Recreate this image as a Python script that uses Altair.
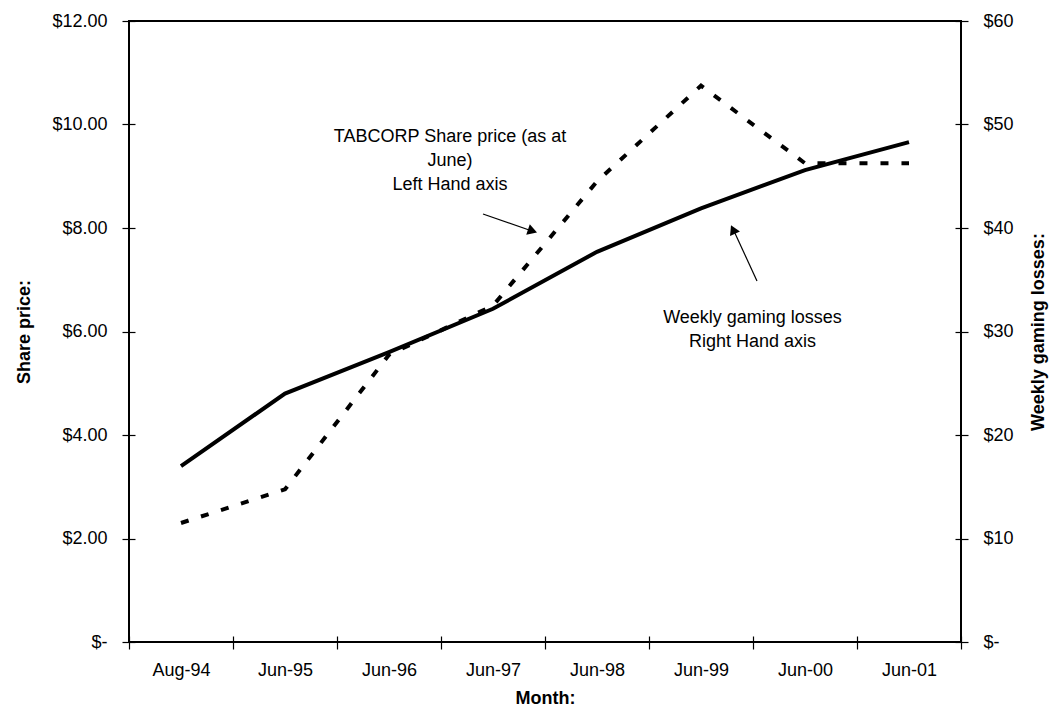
import altair as alt
import pandas as pd

months = ["Aug-94", "Jun-95", "Jun-96", "Jun-97", "Jun-98", "Jun-99", "Jun-00", "Jun-01"]
share_price = [2.30, 2.95, 5.55, 6.50, 8.90, 10.75, 9.25, 9.25]
weekly_losses = [17.0, 24.0, 28.0, 32.2, 37.7, 41.9, 45.6, 48.3]

df = pd.DataFrame({"Month": months, "Share": share_price, "Losses": weekly_losses})

FONT = "Liberation Sans"
FS = 18

x_enc = alt.X(
    "Month:N",
    sort=months,
    scale=alt.Scale(paddingInner=0, paddingOuter=0),
    axis=alt.Axis(
        title="Month:",
        titleFont=FONT, titleFontSize=FS, titleFontWeight="bold", titleColor="black",
        labelFont=FONT, labelFontSize=FS, labelColor="black", labelAngle=0,
        labelPadding=12, titlePadding=10,
        tickBand="extent", tickSize=13, offset=-6, domain=False,
        tickColor="black", tickWidth=1.2, grid=False,
    ),
)

share_line = alt.Chart(df).mark_line(
    color="black", strokeWidth=4, strokeDash=[8, 13]
).encode(
    x=x_enc,
    y=alt.Y(
        "Share:Q",
        scale=alt.Scale(domain=[0, 12], nice=False),
        axis=alt.Axis(
            title="Share price:", values=[0, 2, 4, 6, 8, 10, 12],
            labelExpr="datum.value == 0 ? '$-' : '$' + format(datum.value, '.2f')",
            titleFont=FONT, titleFontSize=FS, titleFontWeight="bold", titleColor="black",
            labelFont=FONT, labelFontSize=FS, labelColor="black",
            tickSize=13, offset=-6, domain=False, tickColor="black", tickWidth=1.2,
            labelPadding=15, titlePadding=18, grid=False,
        ),
    ),
)

loss_line = alt.Chart(df).mark_line(color="black", strokeWidth=4).encode(
    x=x_enc,
    y=alt.Y(
        "Losses:Q",
        scale=alt.Scale(domain=[0, 60], nice=False),
        axis=alt.Axis(
            orient="right", title="Weekly gaming losses:", values=[0, 10, 20, 30, 40, 50, 60],
            labelExpr="datum.value == 0 ? '$-' : '$' + format(datum.value, 'd')",
            titleFont=FONT, titleFontSize=FS, titleFontWeight="bold", titleColor="black",
            titleAngle=270, titleBaseline="top",
            labelFont=FONT, labelFontSize=FS, labelColor="black",
            tickSize=13, offset=-6, domain=False, tickColor="black", tickWidth=1.2,
            labelPadding=15, titlePadding=16, grid=False,
        ),
    ),
)

one = pd.DataFrame({"k": [0]})

ann1 = alt.Chart(one).mark_text(
    font=FONT, fontSize=FS, color="black", align="center", baseline="middle", lineHeight=24
).encode(
    x=alt.value(321), y=alt.value(116),
    text=alt.value(["TABCORP Share price (as at", "June)", "Left Hand axis"]),
)
ann2 = alt.Chart(one).mark_text(
    font=FONT, fontSize=FS, color="black", align="center", baseline="middle", lineHeight=24
).encode(
    x=alt.value(623.5), y=alt.value(297),
    text=alt.value(["Weekly gaming losses", "Right Hand axis"]),
)

arrow1 = alt.Chart(one).mark_rule(color="black", strokeWidth=1.2).encode(
    x=alt.value(354), y=alt.value(193), x2=alt.value(403), y2=alt.value(210)
)
head1 = alt.Chart(one).mark_point(
    shape="triangle-right", filled=True, color="black", opacity=1, size=120, angle=19
).encode(x=alt.value(403.5), y=alt.value(210))

arrow2 = alt.Chart(one).mark_rule(color="black", strokeWidth=1.2).encode(
    x=alt.value(628), y=alt.value(260), x2=alt.value(604.5), y2=alt.value(209)
)
head2 = alt.Chart(one).mark_point(
    shape="triangle-right", filled=True, color="black", opacity=1, size=120, angle=245
).encode(x=alt.value(604), y=alt.value(208.5))

lines = alt.layer(share_line, loss_line).resolve_scale(y="independent")

chart = alt.layer(
    lines, ann1, ann2, arrow1, head1, arrow2, head2
).properties(
    width=832, height=621,
    autosize=alt.AutoSizeParams(type="none"),
    padding={"left": 129, "top": 21, "right": 98, "bottom": 68},
    background="white",
).configure_view(stroke="black", strokeWidth=2)

chart.save("out.html", embed_options={"renderer": "svg", "actions": False})
